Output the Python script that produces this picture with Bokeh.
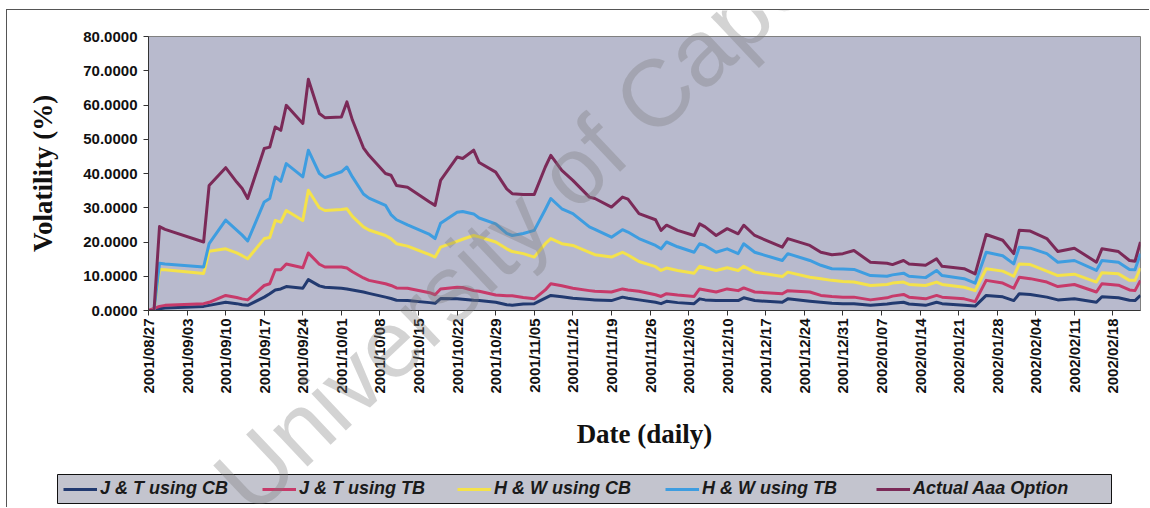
import math
from datetime import datetime, timedelta

from bokeh.plotting import figure
from bokeh.layouts import column
from bokeh.models import (ColumnDataSource, Range1d, FixedTicker, DatetimeTickFormatter,
                          PrintfTickFormatter, Legend, LegendItem, Label)
from bokeh.embed import file_html
from bokeh.resources import INLINE

# ---------------- data ----------------
start_date = "2001/08/27"

# days since start_date of each plotted point
day_offsets = [
    0, 1, 2, 3,
    10, 11, 14, 16, 17, 18,
    21, 22, 23, 24, 25,
    28, 29, 31, 32,
    35, 36, 37, 39, 40,
    43, 44, 45, 47,
    51, 52, 53,
    56, 57, 59, 60,
    63, 65, 66, 68,
    70, 72, 73, 75, 77,
    80, 81, 84, 86, 87, 89,
    92, 93, 94, 96, 99,
    100, 101, 103, 105, 107, 108, 110,
    115, 116, 120, 122, 124, 126, 128,
    131, 134, 135, 137, 138,
    141, 143, 144, 148, 150,
    152, 155, 157, 158, 160,
    163, 165, 168, 172, 173,
    176, 178, 179, 180]

actual_aaa = [
    0, 0, 24.5, 23.7,
    20.0, 36.5, 41.7, 37.5, 35.6, 32.7,
    47.3, 47.7, 53.6, 52.6, 59.9,
    54.6, 67.5, 57.5, 56.3,
    56.5, 60.9, 55.6, 47.5, 45.3,
    40.0, 39.5, 36.5, 36.0,
    31.7, 30.7, 38.0,
    44.8, 44.4, 46.8, 43.2,
    40.4, 35.5, 34.1, 33.9,
    33.9, 41.9, 45.3, 40.9, 38.0,
    33.1, 32.7, 30.2, 33.1, 32.5, 28.3,
    26.5, 23.4, 24.9, 23.4, 21.9,
    25.3, 24.4, 21.9, 23.9, 22.4, 24.9, 21.9,
    18.5, 21.0, 19.0, 17.0, 16.3, 16.6, 17.5,
    14.1, 13.8, 13.4, 14.6, 13.6,
    13.2, 15.1, 12.9, 12.2, 10.7,
    22.2, 20.5, 16.6, 23.4, 23.2,
    21.0, 17.2, 18.2, 14.1, 18.0,
    17.2, 14.6, 14.4, 20.0]

hw_tb = [
    0, 0, 13.8, 13.6,
    12.7, 19.5, 26.4, 23.5, 22.0, 20.3,
    31.7, 32.7, 39.0, 37.7, 42.9,
    39.0, 46.8, 40.0, 38.8,
    40.5, 41.9, 39.0, 34.0, 32.8,
    30.7, 28.0, 26.5, 25.0,
    22.2, 21.0, 25.5,
    28.7, 28.9, 28.2, 27.0,
    25.3, 22.5, 21.9, 22.5,
    23.4, 29.5, 32.7, 29.7, 28.3,
    24.4, 23.7, 21.4, 23.6, 22.9, 21.0,
    19.0, 18.0, 20.0, 18.6, 17.0,
    19.5, 19.0, 17.0, 18.0, 16.6, 19.5, 17.0,
    14.6, 16.6, 14.6, 13.2, 12.2, 12.1, 12.0,
    10.2, 10.0, 10.4, 10.9, 10.0,
    9.6, 11.7, 10.2, 9.3, 8.0,
    17.0, 16.0, 13.6, 18.5, 18.2,
    16.6, 14.1, 14.6, 11.7, 14.6,
    14.1, 12.0, 11.9, 16.6]

hw_cb = [
    0, 0, 12.0, 11.9,
    10.8, 17.3, 18.0, 16.8, 16.0, 15.1,
    21.0, 21.3, 26.3, 25.8, 29.2,
    26.3, 35.1, 30.0, 29.2,
    29.5, 29.7, 27.5, 24.4, 23.5,
    21.9, 21.0, 19.5, 18.8,
    16.3, 15.6, 18.5,
    20.2, 20.8, 21.9, 21.5,
    20.0, 18.0, 17.2, 16.6,
    15.6, 19.5, 21.0, 19.5, 19.0,
    17.0, 16.3, 15.6, 17.0, 16.2, 14.3,
    12.8, 11.7, 12.4, 11.7, 10.9,
    12.9, 12.5, 11.7, 12.5, 11.7, 12.9, 11.2,
    9.9, 11.2, 9.7, 9.3, 8.8, 8.5, 8.3,
    7.3, 7.6, 8.0, 8.3, 7.6,
    7.3, 8.3, 7.6, 6.8, 5.8,
    12.2, 11.5, 10.0, 13.6, 13.4,
    11.5, 10.2, 10.6, 8.3, 11.0,
    10.7, 8.8, 8.8, 12.4]

jt_tb = [
    0, 0.6, 1.2, 1.5,
    2.0, 2.4, 4.4, 3.8, 3.4, 3.1,
    7.3, 7.8, 11.9, 11.9, 13.6,
    12.5, 16.8, 13.5, 12.7,
    12.7, 12.4, 11.3, 9.5, 8.8,
    7.8, 7.3, 6.6, 6.5,
    5.2, 4.6, 6.3,
    6.8, 6.7, 5.8, 5.6,
    4.5, 4.3, 4.3, 3.8,
    3.4, 6.0, 7.8, 7.2, 6.5,
    5.8, 5.6, 5.4, 6.3, 6.0, 5.6,
    4.6, 4.1, 4.9, 4.5, 4.1,
    6.3, 6.0, 5.4, 6.3, 5.8, 6.6, 5.4,
    4.9, 5.8, 5.4, 4.4, 4.1, 3.9, 3.9,
    3.1, 3.7, 4.2, 4.7, 3.9,
    3.4, 4.4, 3.9, 3.4, 2.6,
    8.8, 8.0, 6.5, 9.7, 9.3,
    8.3, 7.0, 7.6, 5.4, 7.8,
    7.4, 6.0, 5.8, 8.8]

jt_cb = [
    0, 0.2, 0.5, 0.7,
    1.2, 1.5, 2.4, 2.0, 1.7, 1.5,
    3.9, 4.9, 6.0, 6.3, 7.0,
    6.5, 9.0, 7.2, 6.8,
    6.5, 6.3, 6.0, 5.4, 5.0,
    3.9, 3.5, 3.0, 2.9,
    2.3, 2.1, 3.5,
    3.4, 3.3, 3.0, 2.9,
    2.4, 1.7, 1.5, 1.9,
    2.0, 3.6, 4.4, 4.0, 3.6,
    3.2, 3.1, 2.9, 3.9, 3.6, 3.1,
    2.4, 2.0, 2.7, 2.3, 2.0,
    3.4, 3.1, 2.9, 2.9, 2.9, 3.7, 2.9,
    2.4, 3.4, 2.7, 2.4, 2.1, 2.0, 2.0,
    1.5, 1.9, 2.1, 2.4, 1.9,
    1.5, 2.4, 2.0, 1.5, 1.3,
    4.4, 4.0, 2.9, 4.9, 4.7,
    3.9, 3.1, 3.4, 2.4, 4.0,
    3.7, 3.0, 2.9, 4.4]

series_keys = ["jt_cb", "jt_tb", "hw_cb", "hw_tb", "actual_aaa"]
series_names = ["J & T using CB", "J & T using TB", "H & W using CB",
                "H & W using TB", "Actual Aaa Option"]
series_colors = ["#223A70", "#C73A6A", "#F4E24A", "#3E9DE0", "#7B2A58"]

tick_labels = [
    "2001/08/27", "2001/09/03", "2001/09/10", "2001/09/17", "2001/09/24",
    "2001/10/01", "2001/10/08", "2001/10/15", "2001/10/22", "2001/10/29",
    "2001/11/05", "2001/11/12", "2001/11/19", "2001/11/26", "2001/12/03",
    "2001/12/10", "2001/12/17", "2001/12/24", "2001/12/31", "2002/01/07",
    "2002/01/14", "2002/01/21", "2002/01/28", "2002/02/04", "2002/02/11",
    "2002/02/18"]
y_ticks = [0, 10, 20, 30, 40, 50, 60, 70, 80]
watermark_text = "University of Cape Town"

# ---------------- build ----------------
EPOCH = datetime(1970, 1, 1)


def to_ms(dt):
    return (dt - EPOCH).total_seconds() * 1000.0


def unalign(fig):
    if "frame_align" in fig.properties():
        fig.frame_align = False


t0 = datetime.strptime(start_date, "%Y/%m/%d")
x_ms = [to_ms(t0 + timedelta(days=d)) for d in day_offsets]

source = ColumnDataSource(dict(
    x=x_ms, jt_cb=jt_cb, jt_tb=jt_tb, hw_cb=hw_cb, hw_tb=hw_tb, actual_aaa=actual_aaa))

p = figure(width=1150, height=472, x_axis_type="datetime",
           x_range=Range1d(x_ms[0], x_ms[-1]), y_range=Range1d(y_ticks[0], y_ticks[-1]),
           output_backend="svg", toolbar_location=None,
           min_border_left=148, min_border_right=10, min_border_top=36, min_border_bottom=162,
           background_fill_color="#B8BACD", border_fill_color="white")
p.outline_line_color = "#808080"
p.outline_line_width = 1
p.grid.visible = False
unalign(p)

for key, color in zip(series_keys, series_colors):
    p.line("x", key, source=source, line_color=color, line_width=3, line_join="round")

# x axis
xa = p.xaxis[0]
xa.ticker = FixedTicker(ticks=[to_ms(datetime.strptime(t, "%Y/%m/%d")) for t in tick_labels])
fmt = "%Y/%m/%d"
xa.formatter = DatetimeTickFormatter(days=fmt, months=fmt, years=fmt, hours=fmt,
                                     hourmin=fmt, minutes=fmt, minsec=fmt, seconds=fmt,
                                     milliseconds=fmt, microseconds=fmt,
                                     strip_leading_zeros=False)
xa.major_label_orientation = math.pi / 2
xa.major_label_text_font = "Liberation Sans"
xa.major_label_text_font_style = "bold"
xa.major_label_text_font_size = "15px"
xa.major_label_text_color = "#111111"
xa.major_label_standoff = 3
xa.major_tick_out = 5
xa.major_tick_in = 0
xa.minor_tick_line_color = None
xa.axis_line_color = "#333333"
xa.major_tick_line_color = "#333333"
xa.axis_label = "Date (daily)"
xa.axis_label_text_font = "Liberation Serif"
xa.axis_label_text_font_style = "bold"
xa.axis_label_text_font_size = "27px"
xa.axis_label_text_color = "#111111"
xa.axis_label_standoff = 22

# y axis
ya = p.yaxis[0]
ya.ticker = FixedTicker(ticks=y_ticks)
ya.formatter = PrintfTickFormatter(format="%.4f")
ya.major_label_text_font = "Liberation Sans"
ya.major_label_text_font_style = "bold"
ya.major_label_text_font_size = "15px"
ya.major_label_text_color = "#111111"
ya.major_label_standoff = 6
ya.major_tick_out = 5
ya.major_tick_in = 0
ya.minor_tick_line_color = None
ya.axis_line_color = "#333333"
ya.major_tick_line_color = "#333333"
ya.axis_label = "Volatility (%)"
ya.axis_label_text_font = "Liberation Serif"
ya.axis_label_text_font_style = "bold"
ya.axis_label_text_font_size = "27px"
ya.axis_label_text_color = "#111111"
ya.axis_label_standoff = 22

# ---------------- legend strip ----------------
lf = figure(width=1150, height=36, x_range=Range1d(0, 1), y_range=Range1d(0, 1),
            output_backend="svg", toolbar_location=None,
            x_axis_location=None, y_axis_location=None,
            min_border_left=57, min_border_right=39, min_border_top=2, min_border_bottom=5,
            background_fill_color="#C3C4CE", border_fill_color="white")
lf.grid.visible = False
lf.outline_line_color = "#111111"
lf.outline_line_width = 1
unalign(lf)

legend_x = [6, 205, 400, 608, 819]
for key, name, color, lx in zip(series_keys, series_names, series_colors, legend_x):
    # legend proxy: same series, lying outside this strip's (0..1) ranges
    proxy = lf.line("x", key, source=source, line_color=color, line_width=3)
    lg = Legend(items=[LegendItem(label=name, renderers=[proxy])], location=(lx, 4),
                orientation="horizontal",
                label_text_font="Liberation Sans", label_text_font_style="bold italic",
                label_text_font_size="18px", label_text_color="#1a1a1a",
                glyph_width=34, glyph_height=20, label_height=20, label_standoff=3,
                spacing=0, padding=0, margin=0,
                background_fill_alpha=0, border_line_color=None)
    lf.add_layout(lg, "center")

# ---------------- watermark overlay (chart area, drawn over everything) -------
wm = figure(width=1143, height=498, x_range=Range1d(0, 1), y_range=Range1d(0, 1),
            output_backend="svg", toolbar_location=None,
            x_axis_location=None, y_axis_location=None,
            min_border_left=0, min_border_right=0, min_border_top=0, min_border_bottom=0,
            background_fill_alpha=0, border_fill_alpha=0)
wm.grid.visible = False
wm.outline_line_color = None
unalign(wm)
wm.styles = {"position": "absolute", "left": "6px", "top": "9px",
             "border-left": "1px solid #555555", "border-top": "1px solid #555555",
             "pointer-events": "none", "z-index": "10"}
wm.add_layout(Label(x=259, y=-24, x_units="screen", y_units="screen",
                    text=watermark_text, angle=43.3, angle_units="deg",
                    text_font="Liberation Sans", text_font_size="95px",
                    text_color="#7a7a7a", text_alpha=0.33))

layout = column(p, lf, wm, spacing=0)
open("out.html", "w").write(file_html(layout, INLINE))
